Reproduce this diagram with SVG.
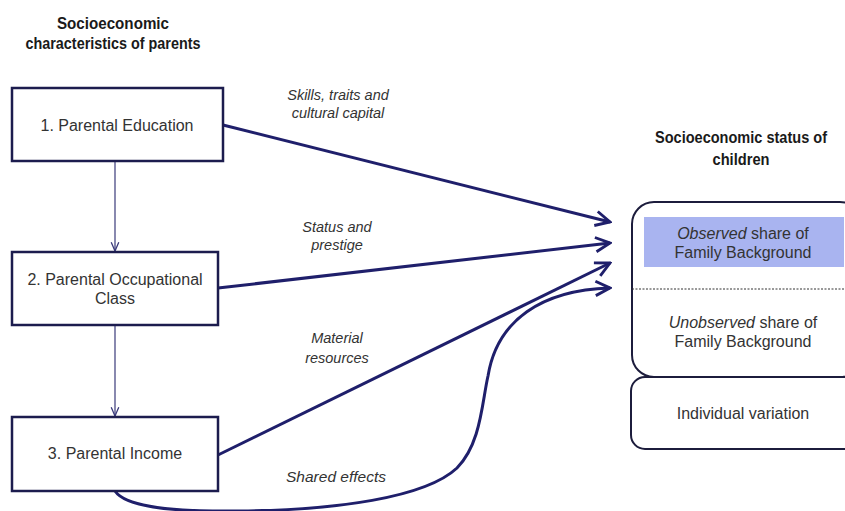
<svg xmlns="http://www.w3.org/2000/svg" width="845" height="511" viewBox="0 0 845 511">
  <style>
    .box { fill: #ffffff; stroke: #1c1c4e; stroke-width: 2.5; }
    .rbox { fill: #ffffff; stroke: #1c1c3c; stroke-width: 2; }
    .txt { font-family: "Liberation Sans", Arial, sans-serif; font-size: 16px; fill: #333333; text-anchor: middle; }
    .lbl { font-family: "Liberation Sans", Arial, sans-serif; font-size: 14.5px; font-style: italic; fill: #333333; text-anchor: middle; }
    .ttl { font-family: "Liberation Sans", Arial, sans-serif; font-size: 16px; font-weight: bold; fill: #1a1a1a; text-anchor: middle; }
    .thin { fill: none; stroke: #3a3a7a; stroke-width: 1.2; }
    .thick { fill: none; stroke: #1f1f6b; stroke-width: 3; }
  </style>
  <defs>
    <marker id="chev" viewBox="0 0 10 10" refX="9" refY="5" markerWidth="6" markerHeight="6" markerUnits="strokeWidth" orient="auto">
      <path d="M1,1 L9,5 L1,9" fill="none" stroke="#1f1f6b" stroke-width="1.6"/>
    </marker>
    <marker id="chevThin" viewBox="0 0 10 10" refX="9" refY="5" markerWidth="9" markerHeight="9" markerUnits="strokeWidth" orient="auto">
      <path d="M1,1.5 L9,5 L1,8.5" fill="none" stroke="#3a3a7a" stroke-width="1.2"/>
    </marker>
  </defs>
  <rect width="845" height="511" fill="#ffffff"/>

  <!-- column headings -->
  <text class="ttl" x="113" y="29" textLength="112" lengthAdjust="spacingAndGlyphs">Socioeconomic</text>
  <text class="ttl" x="113" y="49" textLength="175" lengthAdjust="spacingAndGlyphs">characteristics of parents</text>
  <text class="ttl" x="741" y="143" textLength="172" lengthAdjust="spacingAndGlyphs">Socioeconomic status of</text>
  <text class="ttl" x="741" y="165" textLength="57" lengthAdjust="spacingAndGlyphs">children</text>

  <!-- connectors -->
  <g id="connectors">
    <line class="thin" x1="115" y1="161" x2="115" y2="251" marker-end="url(#chevThin)"/>
    <line class="thin" x1="115" y1="325" x2="115" y2="416" marker-end="url(#chevThin)"/>
    <path class="thick" d="M223,125 L610,222" marker-end="url(#chev)"/>
    <path class="thick" d="M218,288 L610,243" marker-end="url(#chev)"/>
    <path class="thick" d="M218,455 L610,263" marker-end="url(#chev)"/>
    <path class="thick" d="M115,491 C125,506 165,512 240,511 C335,510 425,498 457,468 C481,444 482,402 488,376 C497,320 542,290 610,288" marker-end="url(#chev)"/>
    <text class="lbl" x="338" y="100">Skills, traits and</text>
    <text class="lbl" x="338" y="118">cultural capital</text>
    <text class="lbl" x="337" y="232">Status and</text>
    <text class="lbl" x="337" y="250">prestige</text>
    <text class="lbl" x="337" y="343">Material</text>
    <text class="lbl" x="337" y="363">resources</text>
    <text class="lbl" x="336" y="482" style="font-size:15.5px">Shared effects</text>
  </g>

  <g id="parental-education">
    <rect class="box" x="12" y="88" width="211" height="73"/>
    <text class="txt" x="117" y="131">1. Parental Education</text>
  </g>
  <g id="parental-occupation">
    <rect class="box" x="12" y="252" width="206" height="73"/>
    <text class="txt" x="115" y="285">2. Parental Occupational</text>
    <text class="txt" x="115" y="304">Class</text>
  </g>
  <g id="parental-income">
    <rect class="box" x="12" y="417" width="206" height="74"/>
    <text class="txt" x="115" y="459">3. Parental Income</text>
  </g>

  <g id="family-background">
    <rect class="rbox" x="632" y="202" width="230" height="175" rx="22" ry="22"/>
    <rect x="644" y="217" width="200" height="50" fill="#a9b4f0"/>
    <line x1="632" y1="289" x2="845" y2="289" stroke="#333333" stroke-width="1" stroke-dasharray="2,1.5"/>
    <text class="txt" x="743" y="239"><tspan font-style="italic">Observed</tspan> share of</text>
    <text class="txt" x="743" y="258">Family Background</text>
    <text class="txt" x="743" y="328"><tspan font-style="italic">Unobserved</tspan> share of</text>
    <text class="txt" x="743" y="347">Family Background</text>
  </g>
  <g id="individual-variation">
    <rect class="rbox" x="631" y="377" width="231" height="72" rx="14" ry="14"/>
    <text class="txt" x="743" y="419">Individual variation</text>
  </g>
</svg>
